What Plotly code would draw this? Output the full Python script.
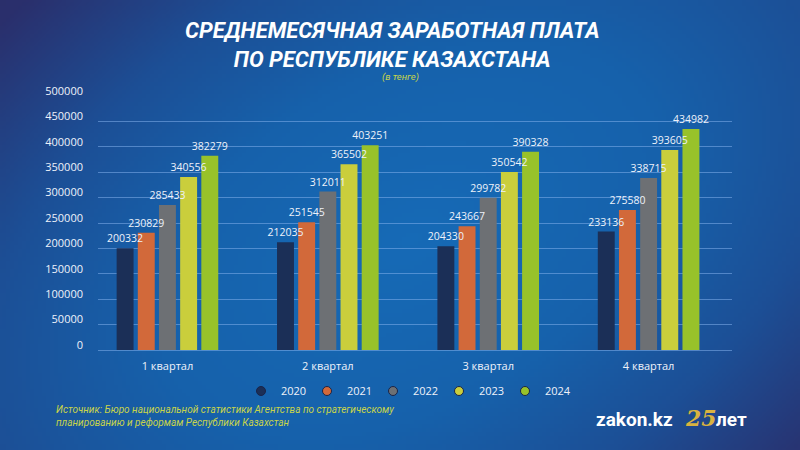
import base64, struct, zlib, math
import plotly.graph_objects as go

# ---- data ----
quarters = ["1 квартал", "2 квартал", "3 квартал", "4 квартал"]
years = ["2020", "2021", "2022", "2023", "2024"]
v2020 = [200332, 212035, 204330, 233136]
v2021 = [230829, 251545, 243667, 275580]
v2022 = [285433, 312011, 299782, 338715]
v2023 = [340556, 365502, 350542, 393605]
v2024 = [382279, 403251, 390328, 434982]
series = [v2020, v2021, v2022, v2023, v2024]
colors = ["#1b2f57", "#d2693a", "#6d7074", "#cace3c", "#98c22a"]
y_ticks = [0, 50000, 100000, 150000, 200000, 250000, 300000, 350000, 400000, 450000, 500000]

# ---- background gradient image ----
W, H = 200, 113
stops = [(0.0, (22, 106, 182)), (0.4, (22, 97, 171)), (0.68, (28, 79, 150)), (1.0, (42, 47, 108)), (1.5, (44, 42, 100))]
def col(r):
    for (r0, c0), (r1, c1) in zip(stops, stops[1:]):
        if r <= r1:
            t = (r - r0) / (r1 - r0)
            return tuple(int(round(a + (b - a) * t)) for a, b in zip(c0, c1))
    return stops[-1][1]
ux, uy = 800 / 918.0, -450 / 918.0
vx, vy = 450 / 918.0, 800 / 918.0
rows = []
for j in range(H):
    row = bytearray([0])
    py = (j + 0.5) * 450 / H
    for i in range(W):
        px = (i + 0.5) * 800 / W
        dx, dy = px - 410, py - 240
        u = (dx * ux + dy * uy) / 680.0
        v = (dx * vx + dy * vy) / 420.0
        r = math.sqrt(u * u + v * v)
        row.extend(col(r))
    rows.append(bytes(row))
def chunk(t, d):
    c = struct.pack(">I", len(d)) + t + d
    return c + struct.pack(">I", zlib.crc32(t + d) & 0xffffffff)
png = b"\x89PNG\r\n\x1a\n" + chunk(b"IHDR", struct.pack(">IIBBBBB", W, H, 8, 2, 0, 0, 0)) \
    + chunk(b"IDAT", zlib.compress(b"".join(rows), 9)) + chunk(b"IEND", b"")
bg_uri = "data:image/png;base64," + base64.b64encode(png).decode()

fig = go.Figure()
# visible bars (no text)
for yr, vals, c in zip(years, series, colors):
    fig.add_trace(go.Bar(
        x=quarters, y=vals, name=yr, offsetgroup=yr,
        marker=dict(color=c, line=dict(width=0)),
        showlegend=False, hoverinfo="skip",
    ))
# transparent bars on top carrying the value labels
for yr, vals in zip(years, series):
    fig.add_trace(go.Bar(
        x=quarters, y=vals, name=yr, offsetgroup=yr,
        marker=dict(color="rgba(0,0,0,0)", line=dict(width=0)),
        text=[str(v) for v in vals], textposition="outside", textangle=0,
        constraintext="none",
        textfont=dict(family="Open Sans", size=10.5, color="#eef2fa"),
        cliponaxis=False, showlegend=False,
    ))
# legend entries with circle markers
for yr, c in zip(years, colors):
    fig.add_trace(go.Scatter(
        x=[None], y=[None], mode="markers", name=yr,
        marker=dict(symbol="circle", size=9, color=c, line=dict(color="#1a2448", width=1)),
    ))

fig.update_layout(
    width=800, height=450,
    margin=dict(l=98, r=68, t=96, b=100, autoexpand=False),
    paper_bgcolor="#1d4f96", plot_bgcolor="rgba(0,0,0,0)",
    barmode="group", bargap=0.34, bargroupgap=0.2,
    uniformtext=dict(mode=False),
    images=[dict(source=bg_uri, xref="paper", yref="paper", x=-98/634, y=1 + 96/254,
                 sizex=800/634, sizey=450/254, xanchor="left", yanchor="top",
                 sizing="stretch", layer="below")],
    xaxis=dict(range=[-0.433, 3.52], showgrid=False, zeroline=False, showline=False,
               ticks="", ticklabelstandoff=8, automargin=False,
               tickfont=dict(family="Open Sans", size=11, color="#eef2fa")),
    yaxis=dict(range=[0, 500000], tickvals=y_ticks, ticktext=[str(t) for t in y_ticks],
               showgrid=True, gridcolor="rgba(130,175,235,0.55)", gridwidth=1,
               zeroline=True, zerolinecolor="rgba(130,175,235,0.55)", zerolinewidth=1,
               showline=False, ticks="", ticklabelshift=-5, ticklabelstandoff=14,
               automargin=False,
               tickfont=dict(family="Open Sans", size=11, color="#eef2fa")),
    legend=dict(orientation="h", x=0.5 + 6/800, xanchor="center", xref="container",
                y=1 - 391/450, yref="container", yanchor="middle",
                font=dict(family="Open Sans", size=11, color="#eef2fa"),
                bgcolor="rgba(0,0,0,0)", itemwidth=30, entrywidth=21),
    showlegend=True,
)

def py2paper(py):
    return (350 - py) / 254.0
def px2paper(px):
    return (px - 98) / 634.0

fig.add_annotation(text="<b><i>СРЕДНЕМЕСЯЧНАЯ ЗАРАБОТНАЯ ПЛАТА<br>ПО РЕСПУБЛИКЕ КАЗАХСТАНА</i></b>",
                   xref="paper", yref="paper", x=px2paper(392), y=py2paper(45),
                   xanchor="center", yanchor="middle", showarrow=False, align="center",
                   font=dict(family="Roboto", size=22, color="#ffffff"))
fig.add_annotation(text="<i>(в тенге)</i>", xref="paper", yref="paper",
                   x=px2paper(400), y=py2paper(77), xanchor="center", yanchor="middle",
                   showarrow=False, font=dict(family="Roboto", size=9.5, color="#c8d44a"))
fig.add_annotation(text="<i>Источник: Бюро национальной статистики Агентства по стратегическому<br>планированию и реформам Республики Казахстан</i>",
                   xref="paper", yref="paper", x=px2paper(54), y=py2paper(416),
                   xanchor="left", yanchor="middle", showarrow=False, align="left",
                   font=dict(family="Roboto", size=10, color="#c8d44a"))
fig.add_annotation(text="<b>zakon.kz</b>", xref="paper", yref="paper",
                   x=px2paper(594), y=py2paper(419), xanchor="left", yanchor="middle",
                   showarrow=False, font=dict(family="Roboto", size=19, color="#ffffff"))
fig.add_annotation(text="<b><i>25</i></b>", xref="paper", yref="paper",
                   x=px2paper(683), y=py2paper(418), xanchor="left", yanchor="middle",
                   showarrow=False, font=dict(family="DejaVu Serif", size=22, color="#d9b340"))
fig.add_annotation(text="<b>лет</b>", xref="paper", yref="paper",
                   x=px2paper(714), y=py2paper(419), xanchor="left", yanchor="middle",
                   showarrow=False, font=dict(family="Roboto", size=19, color="#ffffff"))

fig.write_html("out.html", config={"displayModeBar": False},
               post_script="document.body.style.margin='0';")
